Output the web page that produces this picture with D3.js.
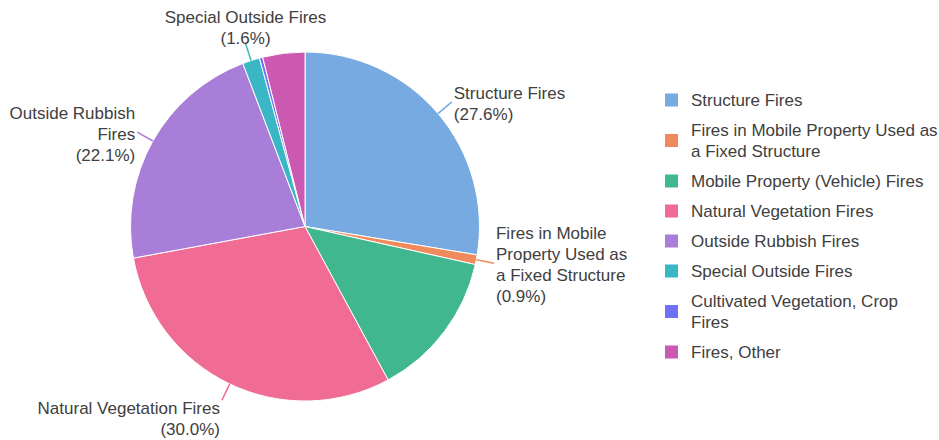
<!DOCTYPE html>
<html><head><meta charset="utf-8">
<script src="https://cdn.jsdelivr.net/npm/d3@7"></script>
<style>body{margin:0;background:#fff}svg{display:block}text{font-family:"Liberation Sans",Arial,sans-serif;fill:#404040}</style>
</head><body><svg id="c" width="939" height="440"></svg>
<script>
const categories = ["Structure Fires","Fires in Mobile Property Used as a Fixed Structure","Mobile Property (Vehicle) Fires","Natural Vegetation Fires","Outside Rubbish Fires","Special Outside Fires","Cultivated Vegetation, Crop Fires","Fires, Other"];
const values = [27.6, 0.9, 13.6, 30.0, 22.1, 1.6, 0.3, 3.9];
const colors = ["#76aae1","#f08a5c","#40b78e","#f06c94","#a97ed8","#3bb6c4","#6e71f5","#cb58b1"];
const showLabel = [true, true, false, true, true, true, false, false];
const labelLines = [["Structure Fires"],["Fires in Mobile","Property Used as","a Fixed Structure"],["Mobile Property (Vehicle) Fires"],["Natural Vegetation Fires"],["Outside Rubbish","Fires"],["Special Outside Fires"],["Cultivated Vegetation, Crop Fires"],["Fires, Other"]];
const legendLines = [["Structure Fires"],["Fires in Mobile Property Used as","a Fixed Structure"],["Mobile Property (Vehicle) Fires"],["Natural Vegetation Fires"],["Outside Rubbish Fires"],["Special Outside Fires"],["Cultivated Vegetation, Crop","Fires"],["Fires, Other"]];

const svg = d3.select("#c");
const cx = 305, cy = 226.5, R = 174.5, FS = 17, LH = 21;
const data = categories.map((c,i)=>({c, v: values[i], i}));
const pie = d3.pie().value(d=>d.v).sort(null);
const arcs = pie(data);
const arc = d3.arc().innerRadius(0).outerRadius(R);
const g = svg.append("g").attr("transform",`translate(${cx},${cy})`);
g.selectAll("path").data(arcs).join("path").attr("d",arc)
  .attr("fill",d=>colors[d.data.i]).attr("stroke","#fff").attr("stroke-width",1);

const lab = g.selectAll("g.lab").data(arcs.filter(d=>showLabel[d.data.i])).join("g");
lab.each(function(d){
  const a = (d.startAngle+d.endAngle)/2, s = Math.sin(a), co = Math.cos(a);
  const p1 = [R*s, -R*co], p2 = [(R+18)*s, -(R+18)*co];
  const el = d3.select(this);
  el.append("line").attr("x1",p1[0]).attr("y1",p1[1]).attr("x2",p2[0]).attr("y2",p2[1])
    .attr("stroke",colors[d.data.i]).attr("stroke-width",1.5);
  const lines = labelLines[d.data.i].concat([`(${d.data.v.toFixed(1)}%)`]);
  const anchor = s>0.35?"start":(s<-0.35?"end":"middle");
  const tx = p2[0] + (anchor==="start"?2:(anchor==="end"?-2:0));
  const n = lines.length; let top;
  if (co>0.8) top = p2[1]+5-n*LH;
  else if (co<-0.8) top = p2[1]-2.5;
  else top = p2[1]-n*LH/2+1.5;
  const t = el.append("text").attr("text-anchor",anchor).attr("font-size",FS);
  lines.forEach((L,k)=>t.append("tspan").attr("x",tx).attr("y",top+k*LH+LH/2).attr("dy","0.35em").text(L));
});

const leg = svg.append("g");
let y = 85;
legendLines.forEach((lines,i)=>{
  const h = lines.length*LH + 9;
  const mid = y + h/2;
  leg.append("rect").attr("x",665).attr("y",mid-6.5).attr("width",13).attr("height",13).attr("fill",colors[i]);
  const t = leg.append("text").attr("font-size",FS);
  lines.forEach((L,k)=>t.append("tspan").attr("x",691).attr("y",mid-(lines.length-1)*LH/2+k*LH).attr("dy","0.35em").text(L));
  y += h;
});
</script></body></html>
